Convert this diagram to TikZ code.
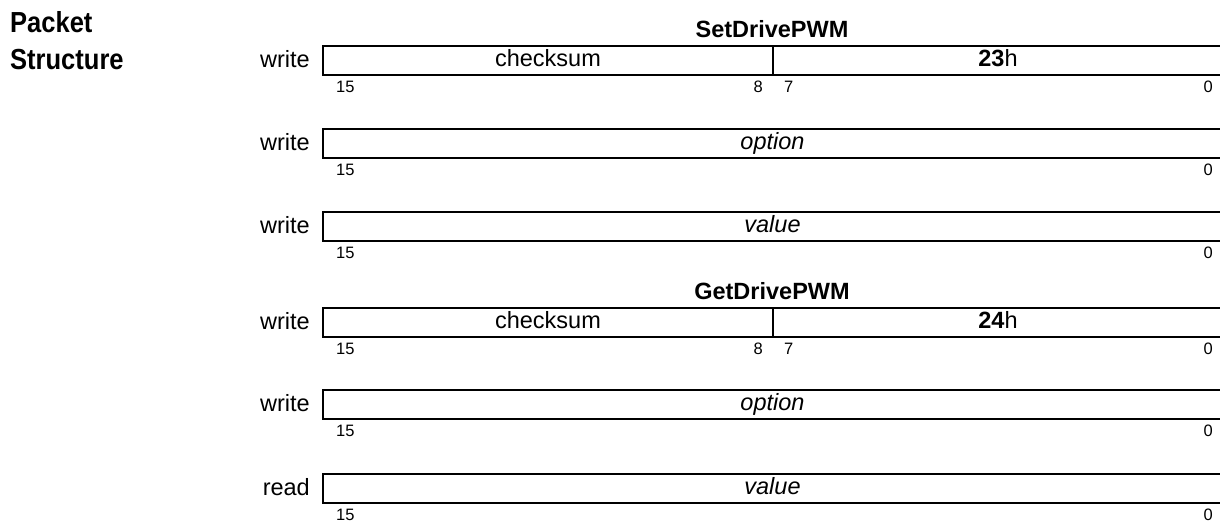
\documentclass[tikz,border=0pt]{standalone}
\usepackage{fontspec}
\setmainfont{Liberation Sans}
\newfontfamily\headfont[FakeStretch=0.88]{Liberation Sans}
\usetikzlibrary{positioning,calc}

\begin{document}
\begin{tikzpicture}[x=1pt, y=-1pt,
    field/.style={draw, line width=2pt, minimum height=29pt, inner sep=0pt, outer sep=0pt, font=\fontsize{23.5}{27}\selectfont, text height=16pt, text depth=4pt},
    half/.style={field, minimum width=450pt},
    full/.style={field, minimum width=899pt},
    dir/.style={font=\fontsize{23.5}{27}\selectfont, anchor=base east, inner sep=0pt},
    bitl/.style={font=\fontsize{16.5}{18}\selectfont, anchor=base west, inner sep=0pt},
    bitr/.style={font=\fontsize{16.5}{18}\selectfont, anchor=base east, inner sep=0pt},
    cmd/.style={font=\bfseries\fontsize{23.5}{27}\selectfont, anchor=base, inner sep=0pt},
    head/.style={font=\headfont\bfseries\fontsize{29}{37}\selectfont, align=left, inner sep=0pt}
]
\useasboundingbox (0,0) rectangle (1220,522);

\node[head, anchor=base west] (hd) at (10,69) {Packet\\Structure};

% SetDrivePWM
\node[cmd] (set) at (772,37) {SetDrivePWM};
\node[half] (s1c) at (548,60) {checksum};
\node[half, right=0pt of s1c] (s1i) {\textbf{23}h};
\node[dir] (s1w) at ($(s1c.west)+(-13,7)$) {write};
\node[bitl] (s1a) at ($(s1c.south west)+(13,18)$) {15};
\node[bitr] (s1b) at ($(s1c.south east)+(-10,18)$) {8};
\node[bitl] (s1d) at ($(s1i.south west)+(11,18)$) {7};
\node[bitr] (s1e) at ($(s1i.south east)+(-10,18)$) {0};

\node[full] (s2) at (772.5,143) {\textit{option}};
\node[dir] (s2w) at ($(s2.west)+(-13,7)$) {write};
\node[bitl] (s2a) at ($(s2.south west)+(13,18)$) {15};
\node[bitr] (s2e) at ($(s2.south east)+(-9,18)$) {0};

\node[full] (s3) at (772.5,226) {\textit{value}};
\node[dir] (s3w) at ($(s3.west)+(-13,7)$) {write};
\node[bitl] (s3a) at ($(s3.south west)+(13,18)$) {15};
\node[bitr] (s3e) at ($(s3.south east)+(-9,18)$) {0};

% GetDrivePWM
\node[cmd] (get) at (772,299) {GetDrivePWM};
\node[half] (g1c) at (548,322) {checksum};
\node[half, right=0pt of g1c] (g1i) {\textbf{24}h};
\node[dir] (g1w) at ($(g1c.west)+(-13,7)$) {write};
\node[bitl] (g1a) at ($(g1c.south west)+(13,18)$) {15};
\node[bitr] (g1b) at ($(g1c.south east)+(-10,18)$) {8};
\node[bitl] (g1d) at ($(g1i.south west)+(11,18)$) {7};
\node[bitr] (g1e) at ($(g1i.south east)+(-10,18)$) {0};

\node[full] (g2) at (772.5,404) {\textit{option}};
\node[dir] (g2w) at ($(g2.west)+(-13,7)$) {write};
\node[bitl] (g2a) at ($(g2.south west)+(13,18)$) {15};
\node[bitr] (g2e) at ($(g2.south east)+(-9,18)$) {0};

\node[full] (g3) at (772.5,488) {\textit{value}};
\node[dir] (g3w) at ($(g3.west)+(-13,7)$) {read};
\node[bitl] (g3a) at ($(g3.south west)+(13,18)$) {15};
\node[bitr] (g3e) at ($(g3.south east)+(-9,18)$) {0};
\end{tikzpicture}
\end{document}
